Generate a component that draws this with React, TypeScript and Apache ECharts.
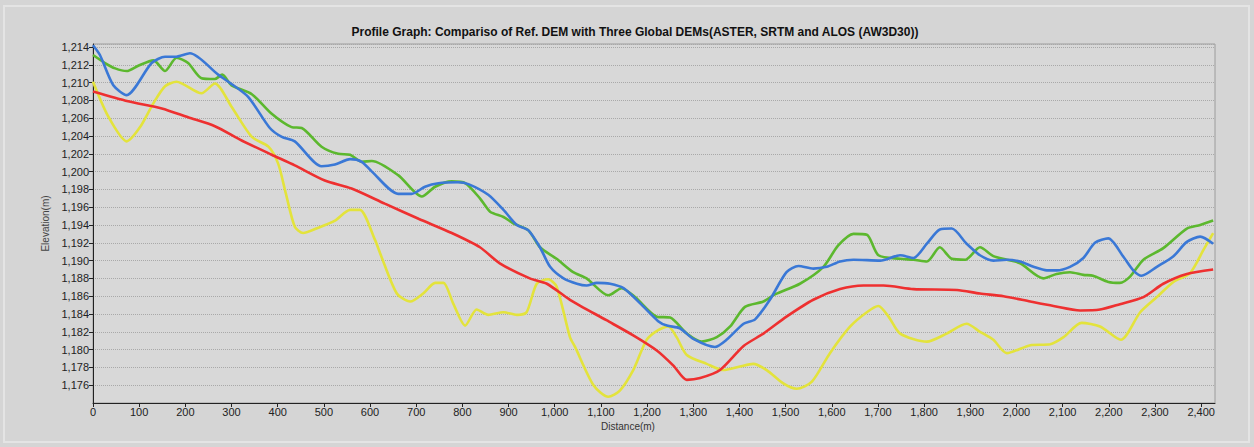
import React, { useEffect, useRef } from "react";
import * as echarts from "echarts";

const TITLE = "Profile Graph: Compariso of Ref. DEM with Three Global DEMs(ASTER, SRTM and ALOS (AW3D30))";
const X_NAME = "Distance(m)";
const Y_NAME = "Elevation(m)";

// [distance (m), elevation (m)]
const refDem: [number, number][] = [
  [0, 1209.0], [76, 1207.9], [149, 1207.1], [206, 1206.1], [264, 1205.1], [322, 1203.5],
  [387, 1201.9], [437, 1200.7], [502, 1199.0], [560, 1198.1], [632, 1196.4], [705, 1194.7],
  [777, 1193.1], [838, 1191.5], [881, 1189.7], [946, 1188.0], [983, 1187.4], [1033, 1185.6],
  [1112, 1183.3], [1170, 1181.6], [1221, 1179.9], [1257, 1178.2], [1286, 1176.6], [1315, 1176.8],
  [1358, 1177.7], [1409, 1180.4], [1452, 1181.8], [1502, 1183.7], [1560, 1185.6], [1618, 1186.8],
  [1669, 1187.2], [1712, 1187.2], [1777, 1186.8], [1871, 1186.7], [1921, 1186.3], [1972, 1186.0],
  [2030, 1185.4], [2080, 1184.9], [2138, 1184.4], [2181, 1184.5], [2224, 1185.1], [2275, 1185.9],
  [2318, 1187.4], [2369, 1188.5], [2426, 1189.0],
];

const aster: [number, number][] = [
  [0, 1210.1], [33, 1206.2], [73, 1203.4], [102, 1205.0], [131, 1207.7], [156, 1209.6],
  [181, 1210.1], [235, 1208.8], [264, 1209.9], [300, 1207.3], [344, 1203.9], [380, 1202.8],
  [401, 1200.9], [416, 1197.9], [437, 1193.8], [455, 1193.1], [488, 1193.7], [524, 1194.5],
  [557, 1195.7], [578, 1195.7], [611, 1192.3], [622, 1190.8], [658, 1186.3], [687, 1185.4],
  [715, 1186.3], [741, 1187.5], [759, 1187.5], [780, 1185.2], [806, 1182.7], [831, 1184.5],
  [856, 1183.9], [889, 1184.2], [918, 1183.9], [939, 1184.2], [961, 1187.4], [986, 1187.9],
  [1004, 1187.1], [1033, 1181.4], [1044, 1180.3], [1084, 1176.0], [1116, 1174.7], [1141, 1175.4],
  [1170, 1177.7], [1199, 1181.1], [1224, 1182.2], [1246, 1182.6], [1264, 1181.4], [1286, 1179.4],
  [1329, 1178.4], [1365, 1177.7], [1401, 1178.1], [1430, 1178.4], [1459, 1177.7], [1495, 1176.2],
  [1524, 1175.6], [1557, 1176.4], [1596, 1179.6], [1640, 1182.6], [1676, 1184.2], [1701, 1184.9],
  [1723, 1183.7], [1748, 1181.8], [1806, 1180.9], [1849, 1181.8], [1892, 1182.9], [1921, 1182.0],
  [1950, 1181.1], [1979, 1179.6], [2030, 1180.5], [2073, 1180.6], [2102, 1181.4], [2141, 1183.0],
  [2181, 1182.6], [2226, 1181.1], [2268, 1184.2], [2304, 1185.9], [2340, 1187.6], [2376, 1188.6],
  [2405, 1191.2], [2426, 1193.1],
];

const srtm: [number, number][] = [
  [0, 1214.2], [15, 1213.1], [44, 1209.7], [73, 1208.6], [127, 1212.2], [156, 1212.9],
  [178, 1212.9], [210, 1213.3], [271, 1210.9], [293, 1210.1], [336, 1208.4], [383, 1204.9],
  [409, 1203.9], [437, 1203.4], [495, 1200.6], [524, 1200.8], [557, 1201.4], [582, 1201.1],
  [604, 1200.0], [661, 1197.5], [690, 1197.5], [719, 1198.3], [748, 1198.7], [791, 1198.8],
  [813, 1198.6], [856, 1197.4], [889, 1195.7], [918, 1194.0], [943, 1193.4], [968, 1191.5],
  [990, 1189.3], [1019, 1188.0], [1048, 1187.4], [1069, 1187.2], [1091, 1187.5], [1120, 1187.4],
  [1149, 1186.9], [1185, 1185.2], [1224, 1183.2], [1243, 1182.7], [1271, 1182.4], [1300, 1181.2],
  [1347, 1180.3], [1372, 1181.1], [1409, 1182.9], [1434, 1183.4], [1466, 1185.6], [1502, 1188.7],
  [1528, 1189.4], [1560, 1189.1], [1589, 1189.3], [1618, 1189.9], [1647, 1190.1], [1705, 1190.0],
  [1748, 1190.6], [1777, 1190.3], [1806, 1191.9], [1834, 1193.5], [1860, 1193.6], [1892, 1191.9],
  [1921, 1190.6], [1950, 1190.0], [1979, 1190.1], [2008, 1189.9], [2037, 1189.3], [2066, 1188.9],
  [2087, 1188.9], [2116, 1189.3], [2145, 1190.3], [2170, 1192.0], [2199, 1192.5], [2232, 1190.4],
  [2253, 1188.9], [2271, 1188.3], [2304, 1189.3], [2340, 1190.5], [2369, 1192.1], [2398, 1192.7],
  [2426, 1191.9],
];

const alos: [number, number][] = [
  [0, 1213.1], [26, 1212.2], [48, 1211.6], [73, 1211.3], [98, 1211.9], [131, 1212.5],
  [156, 1211.3], [181, 1212.8], [206, 1212.2], [235, 1210.5], [264, 1210.4], [280, 1210.9],
  [300, 1209.7], [344, 1208.7], [387, 1206.5], [430, 1205.0], [452, 1204.9], [495, 1202.8],
  [531, 1202.0], [557, 1201.9], [582, 1201.1], [604, 1201.2], [661, 1199.6], [712, 1197.2],
  [741, 1198.3], [777, 1198.9], [806, 1198.7], [838, 1197.0], [860, 1195.5], [889, 1194.9],
  [910, 1194.2], [943, 1193.4], [968, 1191.5], [1004, 1190.2], [1040, 1188.7], [1069, 1188.0],
  [1116, 1186.1], [1145, 1186.9], [1174, 1185.9], [1221, 1183.7], [1250, 1183.6], [1286, 1181.8],
  [1318, 1180.9], [1351, 1181.4], [1380, 1182.6], [1412, 1184.8], [1452, 1185.4], [1477, 1186.2],
  [1531, 1187.4], [1582, 1189.3], [1614, 1191.7], [1647, 1193.0], [1676, 1192.9], [1701, 1190.6],
  [1748, 1190.2], [1777, 1190.1], [1806, 1189.9], [1834, 1191.5], [1860, 1190.2], [1889, 1190.1],
  [1921, 1191.5], [1950, 1190.5], [1979, 1190.1], [2008, 1189.7], [2058, 1188.0], [2087, 1188.5],
  [2116, 1188.7], [2145, 1188.4], [2166, 1188.3], [2199, 1187.6], [2224, 1187.5], [2246, 1188.2],
  [2275, 1190.1], [2318, 1191.4], [2369, 1193.6], [2398, 1194.0], [2426, 1194.5],
];

const fmt = (v: number) => v.toLocaleString("en-US");

export default function App() {
  const ref = useRef<HTMLDivElement>(null);
  useEffect(() => {
    document.body.style.margin = "0";
    document.body.style.background = "#d5d5d5";
    const chart = echarts.init(ref.current!, undefined, { renderer: "svg" });
    const font = "Liberation Sans, Arial, sans-serif";
    const mkLine = (name: string, data: [number, number][], color: string, z: number) => ({
      name,
      type: "line",
      data,
      showSymbol: false,
      smooth: 0.25,
      z,
      lineStyle: { color, width: 2.6 },
      itemStyle: { color },
    });
    chart.setOption({
      animation: false,
      backgroundColor: "#d5d5d5",
      title: {
        text: TITLE,
        left: 630,
        textAlign: "center",
        top: 21,
        textStyle: { fontFamily: font, fontSize: 12, fontWeight: "bold", color: "#111" },
      },
      graphic: [
        {
          type: "rect",
          shape: { x: 4, y: 6, width: 1245, height: 436 },
          style: { fill: "none", stroke: "#e4e4e4", lineWidth: 2 },
          silent: true,
        },
      ],
      grid: {
        left: 93,
        top: 44,
        width: 1122,
        height: 359,
        show: true,
        backgroundColor: "#d8d8d8",
        borderColor: "#9c9c9c",
        borderWidth: 1,
      },
      xAxis: {
        type: "value",
        min: 0,
        max: 2430,
        interval: 100,
        name: X_NAME,
        nameLocation: "middle",
        nameGap: 18,
        nameTextStyle: { fontFamily: font, fontSize: 10, color: "#333", padding: [0, 52, 0, 0] },
        axisLine: { show: true, lineStyle: { color: "#222", width: 1 } },
        axisTick: { show: true, length: 4, lineStyle: { color: "#222" } },
        axisLabel: {
          fontFamily: font,
          fontSize: 11,
          color: "#222",
          margin: 3,
          showMaxLabel: false,
          formatter: (v: number) => fmt(v),
        },
        splitLine: { show: false },
      },
      yAxis: {
        type: "value",
        min: 1174,
        max: 1214.34,
        interval: 2,
        name: Y_NAME,
        nameLocation: "middle",
        nameGap: 35,
        nameTextStyle: { fontFamily: font, fontSize: 10, color: "#444" },
        axisLine: { show: true, lineStyle: { color: "#222", width: 1 } },
        axisTick: { show: true, length: 4, lineStyle: { color: "#222" } },
        axisLabel: {
          fontFamily: font,
          fontSize: 11,
          color: "#222",
          margin: 4,
          showMinLabel: false,
          showMaxLabel: false,
          formatter: (v: number) => (v >= 1176 && Math.abs(v - Math.round(v)) < 1e-6 ? fmt(v) : ""),
        },
        splitLine: { show: true, lineStyle: { color: "#a9a9a9", type: "dotted", width: 1 } },
      },
      series: [
        mkLine("ASTER", aster, "#e3e33c", 2),
        mkLine("Ref. DEM", refDem, "#ee3030", 3),
        mkLine("ALOS (AW3D30)", alos, "#5cb82e", 4),
        mkLine("SRTM", srtm, "#3a78d6", 5),
      ],
    });
    return () => chart.dispose();
  }, []);
  return <div ref={ref} style={{ width: 1254, height: 447 }} />;
}
